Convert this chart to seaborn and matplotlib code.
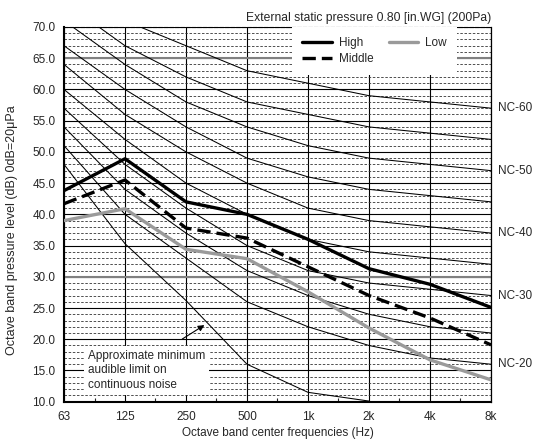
import numpy as np
import pandas as pd
import matplotlib
matplotlib.use("Agg")
import matplotlib.pyplot as plt
import seaborn as sns
from matplotlib.ticker import MultipleLocator, FixedLocator

# ---------------- data ----------------
freq_labels = ["63", "125", "250", "500", "1k", "2k", "4k", "8k"]
high = [43.8, 48.9, 42.0, 40.0, 36.0, 31.3, 28.8, 25.1]
middle = [41.7, 45.5, 37.8, 36.2, 31.6, 27.0, 23.4, 19.1]
low = [39.0, 40.9, 34.4, 32.9, 27.6, 21.8, 16.7, 13.5]

nc_names = ["NC-20", "NC-25", "NC-30", "NC-35", "NC-40", "NC-45", "NC-50", "NC-55", "NC-60"]
nc_20 = [51, 40, 33, 26, 22, 19, 17, 16]
nc_25 = [54, 44, 37, 31, 27, 24, 22, 21]
nc_30 = [57, 48, 41, 35, 31, 29, 28, 27]
nc_35 = [60, 52, 45, 40, 36, 34, 33, 32]
nc_40 = [64, 56, 50, 45, 41, 39, 38, 37]
nc_45 = [67, 60, 54, 49, 46, 44, 43, 42]
nc_50 = [71, 64, 58, 54, 51, 49, 48, 47]
nc_55 = [74, 67, 62, 58, 56, 54, 53, 52]
nc_60 = [77, 71, 67, 63, 61, 59, 58, 57]
nc_labeled = ["NC-20", "NC-30", "NC-40", "NC-50", "NC-60"]

threshold = [48.0, 35.3, 26.2, 16.0, 11.5, 10.1]  # 63 Hz .. 2 kHz

title = "External static pressure 0.80 [in.WG] (200Pa)"
ylabel = "Octave band pressure level (dB) 0dB=20\u03bcPa"
xlabel = "Octave band center frequencies (Hz)"
note = "Approximate minimum\naudible limit on\ncontinuous noise"

# ---------------- style ----------------
sns.set_style("white")
plt.rcParams["font.family"] = ["Liberation Sans", "DejaVu Sans"]
plt.rcParams["font.size"] = 8.5

fig = plt.figure(figsize=(5.42, 4.41), dpi=100)
ax = fig.add_axes([64 / 542, 1 - 401.7 / 441, (491 - 64) / 542, (401.7 - 27) / 441])

pos = np.arange(len(freq_labels))

# NC curves
nc_vals = [nc_20, nc_25, nc_30, nc_35, nc_40, nc_45, nc_50, nc_55, nc_60]
nc_df = pd.DataFrame({
    "pos": np.tile(pos, len(nc_names)),
    "level": np.concatenate(nc_vals),
    "curve": np.repeat(nc_names, len(pos)),
})
sns.lineplot(data=nc_df, x="pos", y="level", units="curve", estimator=None,
             color="black", lw=0.75, ax=ax, legend=False, zorder=2)

# threshold curve
sns.lineplot(x=pos[:len(threshold)], y=threshold, color="black", lw=0.75,
             ax=ax, legend=False, zorder=2)

# series
sns.lineplot(x=pos, y=high, color="black", lw=2.4, ax=ax, label="High", zorder=5)
sns.lineplot(x=pos, y=middle, color="black", lw=2.4, ax=ax, label="Middle",
             zorder=5, dashes=False)
ax.lines[-1].set_dashes((4, 1.8))
sns.lineplot(x=pos, y=low, color="#9a9a9a", lw=2.4, ax=ax, label="Low", zorder=4)

# axes limits / ticks
ax.set_xlim(0, 7)
ax.set_ylim(10, 70)
ax.set_xticks(pos)
ax.set_xticklabels(freq_labels)
ax.xaxis.set_minor_locator(FixedLocator(pos[:-1] + 0.5))
ax.yaxis.set_major_locator(MultipleLocator(5))
ax.yaxis.set_minor_locator(MultipleLocator(1))
ax.set_yticklabels([f"{v:.1f}" for v in ax.get_yticks()])
ax.tick_params(axis="x", which="major", length=0, pad=7, labelsize=8.5)
ax.tick_params(axis="x", which="minor", direction="in", length=3, width=0.8, bottom=True)
ax.tick_params(axis="y", which="both", length=0, pad=6, labelsize=8.5)

# grid
ax.set_axisbelow(True)
ax.grid(which="major", axis="x", color="black", lw=0.8)
ax.grid(which="major", axis="y", color="black", lw=0.8)
ax.grid(which="minor", axis="y", color="#333333", lw=0.6, linestyle=(0, (3, 2)))
for v in (65, 30):
    ax.axhline(v, color="#808080", lw=1.5, zorder=1.5)

for side in ["left", "bottom", "right", "top"]:
    ax.spines[side].set_color("black")
ax.spines["left"].set_linewidth(1.5)
ax.spines["bottom"].set_linewidth(1.5)
ax.spines["right"].set_linewidth(0.9)
ax.spines["top"].set_linewidth(0.8)
ax.spines["top"].set_linestyle((0, (3, 2)))

# NC labels
for name, vals in zip(nc_names, nc_vals):
    if name in nc_labeled:
        ax.annotate(name, xy=(7, vals[-1]), xytext=(5, 0), textcoords="offset points",
                    va="center", ha="left", fontsize=8.5, annotation_clip=False)

# note box + arrow
ax.text(0.39, 15.0, note, ha="left", va="center", fontsize=8.5, linespacing=1.25,
        bbox=dict(facecolor="white", edgecolor="none", pad=3), zorder=3)
ax.annotate("", xy=(2.34, 22.5), xytext=(1.90, 19.8),
            arrowprops=dict(arrowstyle="-|>", color="black", lw=0.8, mutation_scale=9),
            zorder=3)

# legend
leg = ax.legend(loc="upper right", bbox_to_anchor=(0.92, 1.0), ncol=2, frameon=True,
                fontsize=8.5, handlelength=2.5, handletextpad=0.6, columnspacing=1.3,
                labelspacing=0.35, borderaxespad=0, borderpad=0.85, fancybox=False)
leg.get_frame().set_facecolor("white")
leg.get_frame().set_edgecolor("none")
leg.get_frame().set_alpha(1)
leg.set_zorder(10)

# labels
ax.set_title(title, loc="right", fontsize=8.7, pad=4)
ax.set_xlabel(xlabel, fontsize=8.5)
ax.set_ylabel(ylabel, fontsize=9)
ax.xaxis.set_label_coords(0.5, -0.068)
ax.yaxis.set_label_coords(-0.107, 0.458)
ax.xaxis.label.set_va("top")

fig.savefig("out.png", dpi=100)
